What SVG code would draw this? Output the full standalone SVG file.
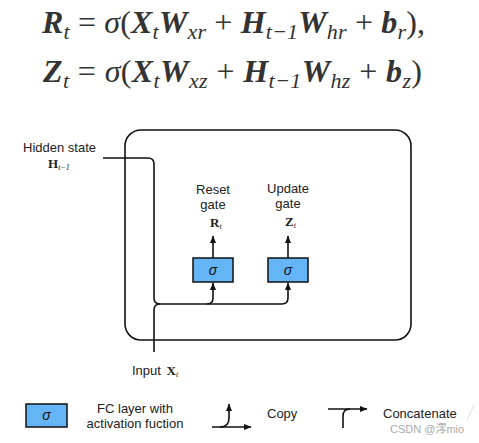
<svg xmlns="http://www.w3.org/2000/svg" width="479" height="443" viewBox="0 0 479 443">
<style>
.eq{font-family:"Liberation Serif","Times New Roman",serif;font-size:32px;fill:#333;}
.b{font-weight:bold;font-style:italic;}
.i{font-style:italic;}
.s{font-size:22px;font-style:italic;}
.lbl{font-family:"Liberation Sans",Arial,sans-serif;font-size:13px;fill:#222;}
.m{font-family:"Liberation Serif","Times New Roman",serif;font-weight:bold;font-size:12px;fill:#222;}
.ms{font-family:"Liberation Serif","Times New Roman",serif;font-style:italic;font-size:8px;fill:#222;}
.ln{fill:none;stroke:#111;stroke-width:1.6;}
.box{fill:#64b5f6;stroke:#111;stroke-width:1.5;}
.sig{font-family:"Liberation Sans",Arial,sans-serif;font-style:italic;font-size:14px;fill:#111;text-anchor:middle;}
</style>
<defs>
<marker id="ah" markerUnits="userSpaceOnUse" markerWidth="8" markerHeight="8" viewBox="0 0 8 8" refX="7" refY="4" orient="auto">
<path d="M0,1 L7.5,4 L0,7 Z" fill="#111"/>
</marker>
</defs>

<g id="equations">
<text class="eq" x="42" y="33" textLength="383" lengthAdjust="spacing"><tspan class="b">R</tspan><tspan class="s" dy="6">t</tspan><tspan dy="-6"> = </tspan><tspan class="i">σ</tspan>(<tspan class="b">X</tspan><tspan class="s" dy="6">t</tspan><tspan class="b" dy="-6">W</tspan><tspan class="s" dy="6">xr</tspan><tspan dy="-6"> + </tspan><tspan class="b">H</tspan><tspan class="s" dy="6">t−1</tspan><tspan class="b" dy="-6">W</tspan><tspan class="s" dy="6">hr</tspan><tspan dy="-6"> + </tspan><tspan class="b">b</tspan><tspan class="s" dy="6">r</tspan><tspan dy="-6">),</tspan></text>
<text class="eq" x="43" y="82" textLength="379" lengthAdjust="spacing"><tspan class="b">Z</tspan><tspan class="s" dy="6">t</tspan><tspan dy="-6"> = </tspan><tspan class="i">σ</tspan>(<tspan class="b">X</tspan><tspan class="s" dy="6">t</tspan><tspan class="b" dy="-6">W</tspan><tspan class="s" dy="6">xz</tspan><tspan dy="-6"> + </tspan><tspan class="b">H</tspan><tspan class="s" dy="6">t−1</tspan><tspan class="b" dy="-6">W</tspan><tspan class="s" dy="6">hz</tspan><tspan dy="-6"> + </tspan><tspan class="b">b</tspan><tspan class="s" dy="6">z</tspan><tspan dy="-6">)</tspan></text>
</g>

<g id="cell">
<rect x="125" y="130" width="286" height="210" rx="16" ry="16" class="ln"/>
</g>

<g id="connectors">
<path class="ln" d="M103,158 H148 Q154,158 154,164 V298 Q154,304 160,304 H207 Q213,304 213,298 V283" marker-end="url(#ah)"/>
<path class="ln" d="M207,304 H282 Q288,304 288,298 V283" marker-end="url(#ah)"/>
<path class="ln" d="M154,352 V310 Q154,304 160,304"/>
<path class="ln" d="M213,258 V236" marker-end="url(#ah)"/>
<path class="ln" d="M288,258 V236" marker-end="url(#ah)"/>
</g>

<g id="reset-gate">
<rect x="193" y="258" width="40" height="24" class="box"/>
<text class="sig" x="213" y="275">σ</text>
<text class="lbl" x="213" y="194" text-anchor="middle">Reset</text>
<text class="lbl" x="213" y="209" text-anchor="middle">gate</text>
<text x="210" y="227"><tspan class="m" style="font-size:13px">R</tspan><tspan class="ms" dy="2">t</tspan></text>
</g>

<g id="update-gate">
<rect x="268" y="258" width="40" height="24" class="box"/>
<text class="sig" x="288" y="275">σ</text>
<text class="lbl" x="288" y="193" text-anchor="middle">Update</text>
<text class="lbl" x="288" y="208" text-anchor="middle">gate</text>
<text x="285" y="226"><tspan class="m" style="font-size:13px">Z</tspan><tspan class="ms" dy="2">t</tspan></text>
</g>

<g id="hidden-state">
<text class="lbl" x="59.5" y="152" text-anchor="middle">Hidden state</text>
<text x="48" y="168"><tspan class="m" style="font-size:13px">H</tspan><tspan class="ms" dy="2">t−1</tspan></text>
</g>

<g id="input">
<text x="132" y="375"><tspan class="lbl">Input </tspan><tspan class="m" dx="2" style="font-size:13px">X</tspan><tspan class="ms" dy="2">t</tspan></text>
</g>

<g id="legend">
<rect x="26" y="404" width="41" height="23" class="box"/>
<text class="sig" x="46.5" y="420">σ</text>
<text class="lbl" x="135" y="413" text-anchor="middle">FC layer with</text>
<text class="lbl" x="135" y="428" text-anchor="middle">activation fuction</text>
<path class="ln" d="M212,427 H251" marker-end="url(#ah)"/>
<path class="ln" d="M220,427 Q229,427 229,418 V404" marker-end="url(#ah)"/>
<text class="lbl" x="267" y="418">Copy</text>
<path class="ln" d="M328,409 H367" marker-end="url(#ah)"/>
<path class="ln" d="M343,428 V416 Q343,409 350,409"/>
<text class="lbl" x="383" y="418">Concatenate</text>
</g>

<g id="watermark">
<text x="390" y="433" style="font-family:'Liberation Sans','Noto Sans CJK SC',sans-serif;font-size:11px;fill:#aaa;">CSDN @澪mio</text>
<path d="M467,420 L474,405" stroke="#ddd" stroke-width="1" fill="none"/>
</g>
</svg>
